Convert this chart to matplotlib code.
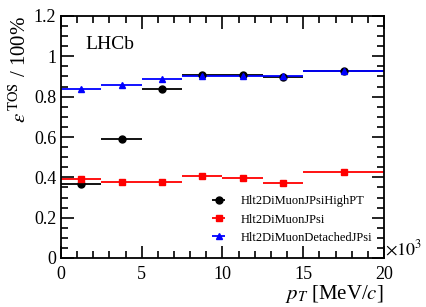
import numpy as np
import matplotlib.pyplot as plt
from matplotlib.ticker import MultipleLocator, FuncFormatter

### === Data ===
bin_lo = [0, 2.5, 5, 7.5, 10, 12.5, 15]
bin_hi = [2.5, 5, 7.5, 10, 12.5, 15, 20]
x_pts = [1.25, 3.75, 6.25, 8.75, 11.25, 13.75, 17.5]

eff_highpt = [0.367, 0.592, 0.836, 0.905, 0.905, 0.898, 0.925]
eff_jpsi = [0.394, 0.377, 0.375, 0.405, 0.399, 0.373, 0.428]
eff_detached = [0.836, 0.858, 0.886, 0.901, 0.903, 0.900, 0.925]

labels = ["Hlt2DiMuonJPsiHighPT", "Hlt2DiMuonJPsi", "Hlt2DiMuonDetachedJPsi"]
colors = ["black", "red", "blue"]
markers = ["o", "s", "^"]

plt.rcParams["font.family"] = ["Liberation Serif", "DejaVu Serif"]
plt.rcParams["mathtext.fontset"] = "stix"

fig = plt.figure(figsize=(4.27, 3.07), dpi=100)
ax = fig.add_axes([61 / 427, 1 - 258 / 307, 323 / 427, 242 / 307])

x = np.array(x_pts)
xerr = [x - np.array(bin_lo), np.array(bin_hi) - x]
for vals, lab, col, mk in zip([eff_highpt, eff_jpsi, eff_detached], labels, colors, markers):
    ax.errorbar(x, vals, xerr=xerr, fmt=mk, color=col, ms=5, lw=1.3,
                capsize=0, label=lab)

ax.set_xlim(0, 20)
ax.set_ylim(0, 1.2)
ax.xaxis.set_major_locator(MultipleLocator(5))
ax.xaxis.set_minor_locator(MultipleLocator(1))
ax.yaxis.set_major_locator(MultipleLocator(0.2))
ax.yaxis.set_minor_locator(MultipleLocator(0.05))
ax.yaxis.set_major_formatter(FuncFormatter(lambda v, p: f"{v:g}"))
ax.tick_params(which="both", direction="in", top=True, right=True, labelsize=13, width=1.2)
ax.tick_params(which="major", length=9)
ax.tick_params(which="minor", length=5)
ax.tick_params(axis="x", pad=6)
for s in ax.spines.values():
    s.set_linewidth(1.3)

ax.set_xlabel(r"$p_{T}$ [MeV/$c$]", fontsize=15, loc="right", labelpad=0)
ax.set_ylabel(r"$\varepsilon^{\,\mathrm{TOS}}$ / 100%", fontsize=15, loc="top", labelpad=2)
ax.text(20.05, -0.005, r"$\times10^{3}$", fontsize=13, ha="left", va="bottom")
ax.text(1.5, 1.06, "LHCb", fontsize=14, ha="left", va="center")

ax.legend(loc="lower right", bbox_to_anchor=(1.0, 0.012), frameon=False, fontsize=9,
          handlelength=2.6, handletextpad=0.5, labelspacing=0.5)

fig.savefig("out.png", dpi=100)
